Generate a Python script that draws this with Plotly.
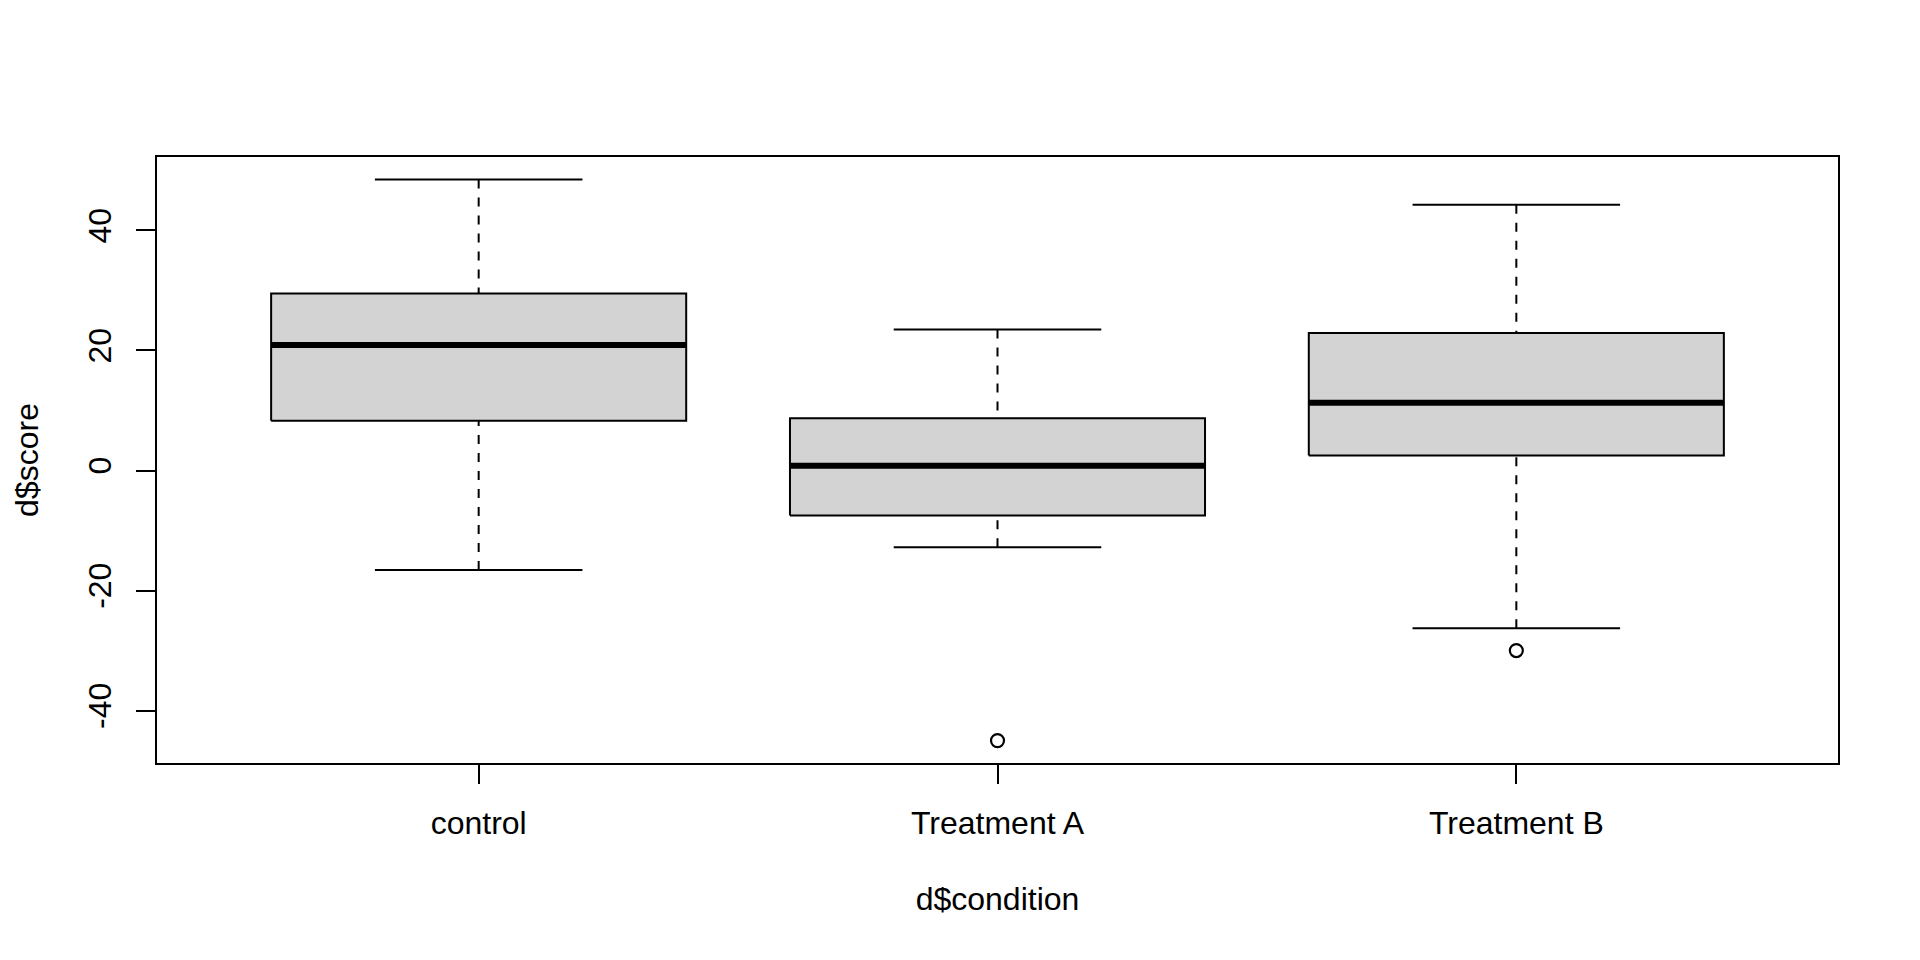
import plotly.graph_objects as go

# ---- data ----
categories = ["control", "Treatment A", "Treatment B"]
lower_whisker = [-16.6, -12.8, -26.3]
q1 = [8.3, -7.5, 2.5]
median = [20.9, 0.8, 11.3]
q3 = [29.5, 8.7, 22.9]
upper_whisker = [48.5, 23.5, 44.3]
outlier_category = ["Treatment A", "Treatment B"]
outlier_values = [-45.0, -30.0]
y_ticks = [-40, -20, 0, 20, 40]

x_title = "d$condition"
y_title = "d$score"

# ---- styling ----
BOX_WIDTH = 0.8          # R boxwex
CAP_FRAC = 0.5           # R staplewex
FILL = "#D3D3D3"
FONT = "Liberation Sans, Arial, sans-serif"
FS = 32

pos = list(range(1, len(categories) + 1))
cat_pos = {c: p for c, p in zip(categories, pos)}

# R-style 4% axis extension
all_vals = lower_whisker + upper_whisker + outlier_values
lo, hi = min(all_vals), max(all_vals)
pad = (hi - lo) * 0.04
y_range = [lo - pad, hi + pad]
xlo, xhi = 0.5, len(categories) + 0.5
xpad = (xhi - xlo) * 0.04
x_range = [xlo - xpad, xhi + xpad]

hw = BOX_WIDTH / 2
cw = hw * CAP_FRAC

wx, wy, bx, by, cx, cy, mx, my = [], [], [], [], [], [], [], []
for p, lw, a, m, b, uw in zip(pos, lower_whisker, q1, median, q3, upper_whisker):
    # whiskers (dashed): from whisker end toward the box
    wx += [p, p, None, p, p, None]
    wy += [uw, b, None, lw, a, None]
    # box
    bx += [p - hw, p + hw, p + hw, p - hw, p - hw, None]
    by += [a, a, b, b, a, None]
    # caps
    cx += [p - cw, p + cw, None, p - cw, p + cw, None]
    cy += [uw, uw, None, lw, lw, None]
    # median
    mx += [p - hw, p + hw, None]
    my += [m, m, None]

fig = go.Figure()
fig.add_trace(go.Scatter(x=wx, y=wy, mode="lines",
                         line=dict(color="black", width=2, dash="9px,9px"),
                         hoverinfo="skip"))
fig.add_trace(go.Scatter(x=bx, y=by, mode="lines", fill="toself", fillcolor=FILL,
                         line=dict(color="black", width=2), hoverinfo="skip"))
fig.add_trace(go.Scatter(x=cx, y=cy, mode="lines",
                         line=dict(color="black", width=2), hoverinfo="skip"))
fig.add_trace(go.Scatter(x=mx, y=my, mode="lines",
                         line=dict(color="black", width=6), hoverinfo="skip"))
fig.add_trace(go.Scatter(x=[cat_pos[c] for c in outlier_category], y=outlier_values,
                         mode="markers",
                         marker=dict(symbol="circle-open", size=13, color="black",
                                     line=dict(width=2.2, color="black")),
                         hoverinfo="skip"))

fig.update_layout(
    width=1904, height=944,
    margin=dict(l=149, r=74, t=149, b=189),
    paper_bgcolor="white", plot_bgcolor="white",
    showlegend=False,
    font=dict(family=FONT, size=FS, color="black"),
    xaxis=dict(range=x_range, tickvals=pos, ticktext=categories,
               tickfont=dict(size=FS),
               showgrid=False, zeroline=False,
               showline=True, linecolor="black", linewidth=2, mirror=True,
               ticks="outside", ticklen=19, tickwidth=2, tickcolor="black",
               ticklabelstandoff=12,
               title=dict(text=x_title, standoff=47, font=dict(size=FS))),
    yaxis=dict(range=y_range, tickvals=y_ticks, ticktext=[str(t) for t in y_ticks],
               tickangle=-90, tickfont=dict(size=FS),
               showgrid=False, zeroline=False,
               showline=True, linecolor="black", linewidth=2, mirror=True,
               ticks="outside", ticklen=19, tickwidth=2, tickcolor="black",
               ticklabelstandoff=12,
               title=dict(text=y_title, standoff=34, font=dict(size=FS))),
)

fig.write_html("out.html")
